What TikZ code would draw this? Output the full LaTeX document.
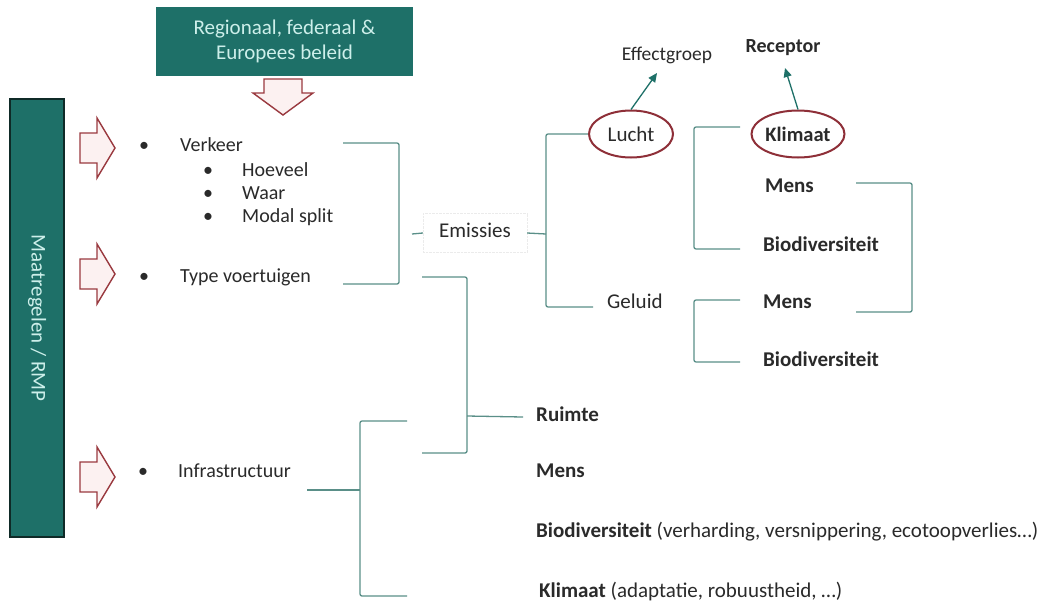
\documentclass[tikz,border=0pt]{standalone}
\usepackage{fontspec}
\setmainfont{Carlito}
\usetikzlibrary{shapes.geometric,arrows.meta}
\definecolor{tealbox}{HTML}{1E7068}
\definecolor{boxtxt}{HTML}{CDEFEA}
\definecolor{brkcol}{HTML}{5A8F88}
\definecolor{ared}{HTML}{9A3A40}
\definecolor{afill}{HTML}{FCF1F1}
\definecolor{ellcol}{HTML}{8E2F38}
\definecolor{txt}{HTML}{2A2A2A}
\definecolor{darkedge}{HTML}{0F2A27}
\begin{document}
\begin{tikzpicture}[x=1pt,y=-1pt,
  lbl/.style={font=\fontsize{20}{24}\selectfont, text=txt, inner sep=0pt, anchor=west, text height=13pt, text depth=4pt},
  rlbl/.style={lbl, font=\fontsize{21}{25}\selectfont},
  blbl/.style={lbl, font=\fontsize{21}{25}\selectfont\bfseries},
  brk/.style={draw=brkcol, line width=1.3pt, rounded corners=2pt},
  blockarrow/.style={draw=ared, fill=afill, line width=1.4pt, line join=miter},
  ellnode/.style={ellipse, draw=ellcol, line width=2pt, inner sep=0pt, anchor=center},
  tealarrow/.style={draw=tealbox, line width=1.3pt, -{Triangle[length=9pt,width=8pt]}},
  rightarr/.pic={\path[blockarrow] (0,-15)--(17,-15)--(17,-30)--(35,0)--(17,30)--(17,15)--(0,15)--cycle;},
  downarr/.pic={\path[blockarrow] (-19,0)--(19,0)--(19,14)--(30,14)--(0,36)--(-30,14)--(-19,14)--cycle;}
]
\useasboundingbox[fill=white] (0,0) rectangle (1040,608);

% policy box and arrow
\node[fill=tealbox, minimum width=257pt, minimum height=69pt, inner sep=0pt, text=boxtxt, align=center,
      font=\fontsize{21}{25}\selectfont] (policy) at (284.5,41.5) {Regionaal, federaal \&\\Europees beleid};
\pic (downA) at (283,79) {downarr};

% Maatregelen box
\node[rotate=-90, fill=tealbox, draw=darkedge, line width=2.5pt, minimum width=438pt, minimum height=54pt,
      text=boxtxt, font=\fontsize{21}{25}\selectfont] (rmp) at (37,318) {Maatregelen / RMP};
\pic (arrA) at (80,148) {rightarr};
\pic (arrB) at (80,274) {rightarr};
\pic (arrC) at (80,477) {rightarr};

% left texts
\node[lbl] (b1) at (139,147) {•};
\node[lbl] (verkeer) at (180,147) {Verkeer};
\node[lbl] (b2) at (203,172) {•};
\node[lbl] (hoeveel) at (242,172) {Hoeveel};
\node[lbl] (b3) at (203,195) {•};
\node[lbl] (waar) at (242,195) {Waar};
\node[lbl] (b4) at (203,218) {•};
\node[lbl] (modal) at (242,218) {Modal split};
\node[lbl] (b5) at (139,278) {•};
\node[lbl] (type) at (180,278) {Type voertuigen};
\node[lbl] (b6) at (138,473) {•};
\node[lbl] (infra) at (178,473) {Infrastructuur};

% bracket Verkeer
\draw[brk] (343,143) -- (399,143) -- (399,284) -- (343,284);

% Emissies
\node[rlbl, anchor=center, draw=black!8, densely dotted, minimum width=104pt, minimum height=39pt] (emis) at (475,233) {Emissies};
\draw[brk] (412,234) -- (emis.west);

% Lucht / Geluid
\node[ellnode, minimum width=84pt, minimum height=47pt, font=\fontsize{21}{25}\selectfont, text=txt] (lucht) at (631,134) {Lucht};
\node[rlbl] (geluid) at (607,304) {Geluid};
\draw[brk] (emis.east) -- (546,234);
\draw[brk] (lucht.west) -- (546,134) -- (546,307) -- (593,307);

\node[font=\fontsize{19.5}{23}\selectfont, text=txt, inner sep=0pt] (effect) at (667,55) {Effectgroep};
\coordinate (egtip) at (657,73);
\draw[tealarrow] (lucht.north) -- (egtip);

% Klimaat / receptors
\node[ellnode, minimum width=93pt, minimum height=47pt, font=\fontsize{20.5}{24}\selectfont\bfseries, text=txt] (klimaat) at (798,134) {Klimaat};
\node[font=\fontsize{20}{24}\selectfont\bfseries, text=txt, inner sep=0pt] (receptor) at (783,48) {Receptor};
\coordinate (rctip) at (785,68);
\draw[tealarrow] (klimaat.north) -- (rctip);

\node[blbl] (mens1) at (765,188) {Mens};
\node[blbl] (bio1) at (763,247) {Biodiversiteit};
\node[blbl] (mens2) at (763,304) {Mens};
\node[blbl] (bio2) at (763,362) {Biodiversiteit};

\draw[brk] (740,127) -- (694,127) -- (694,249) -- (740,249);
\draw[brk] (856,183) -- (912,183) -- (912,312) -- (856,312);
\draw[brk] (740,300) -- (694,300) -- (694,362) -- (740,362);

% Type voertuigen -> Ruimte
\node[blbl] (ruimte) at (536,417) {Ruimte};
\draw[brk] (422,277) -- (467,277) -- (467,453) -- (422,453);
\draw[brk] (467,416) -- ([xshift=-13pt]ruimte.west);

% Infrastructuur bracket
\draw[brk] (407,421) -- (360,421) -- (360,596) -- (407,596);
\draw[brk] (307,490) -- (360,490);

\node[blbl] (mens3) at (536,473) {Mens};
\node[rlbl] (bio3) at (536,533) {\bfseries Biodiversiteit\mdseries\ (verharding, versnippering, ecotoopverlies…)};
\node[rlbl] (klim3) at (539,593) {\bfseries Klimaat\mdseries\ (adaptatie, robuustheid, …)};
\end{tikzpicture}
\end{document}
